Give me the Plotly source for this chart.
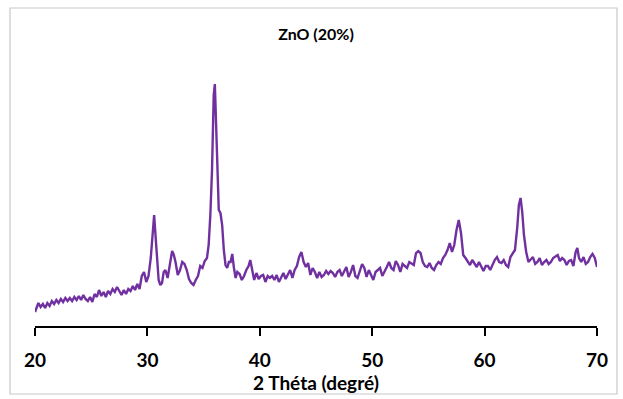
import plotly.graph_objects as go

two_theta = [
    20.0, 20.15, 20.3, 20.5, 20.7, 20.9, 21.1, 21.3, 21.5, 21.7, 21.9, 22.1, 22.3, 22.5, 22.7, 22.9,
    23.1, 23.3, 23.5, 23.7, 23.9, 24.1, 24.3, 24.5, 24.7, 24.9, 25.1, 25.3, 25.5, 25.7, 25.9, 26.1,
    26.3, 26.5, 26.7, 26.9, 27.1, 27.3, 27.5, 27.7, 27.9, 28.1, 28.3, 28.5, 28.7, 28.9, 29.1, 29.3,
    29.5, 29.7, 29.9, 30.1, 30.3, 30.45, 30.6, 30.75, 30.9, 31.0, 31.15, 31.3, 31.45, 31.6, 31.8,
    32.0, 32.2, 32.35, 32.5, 32.7, 32.9, 33.1, 33.3, 33.5, 33.7, 33.9, 34.1, 34.3, 34.5, 34.7, 34.9,
    35.1, 35.3, 35.45, 35.6, 35.75, 35.9, 36.0, 36.1, 36.2, 36.35, 36.5, 36.65, 36.8, 36.95, 37.1,
    37.25, 37.4, 37.55, 37.7, 37.85, 38.0, 38.2, 38.4, 38.6, 38.8, 39.0, 39.15, 39.3, 39.5, 39.7,
    39.9, 40.1, 40.3, 40.5, 40.7, 40.9, 41.1, 41.3, 41.5, 41.7, 41.9, 42.1, 42.3, 42.5, 42.7, 42.9,
    43.1, 43.3, 43.5, 43.7, 43.9, 44.1, 44.3, 44.5, 44.7, 44.9, 45.1, 45.3, 45.5, 45.7, 45.9, 46.1,
    46.3, 46.5, 46.7, 46.9, 47.1, 47.3, 47.5, 47.7, 47.9, 48.1, 48.3, 48.5, 48.7, 48.9, 49.1, 49.3,
    49.5, 49.7, 49.9, 50.1, 50.3, 50.5, 50.7, 50.9, 51.1, 51.3, 51.5, 51.7, 51.9, 52.1, 52.3, 52.5,
    52.7, 52.9, 53.1, 53.3, 53.5, 53.7, 53.9, 54.1, 54.3, 54.5, 54.7, 54.9, 55.1, 55.3, 55.5, 55.7,
    55.9, 56.1, 56.3, 56.5, 56.7, 56.9, 57.1, 57.3, 57.5, 57.7, 57.9, 58.1, 58.3, 58.5, 58.7, 58.9,
    59.1, 59.3, 59.5, 59.7, 59.9, 60.1, 60.3, 60.5, 60.7, 60.9, 61.1, 61.3, 61.5, 61.7, 61.9, 62.1,
    62.3, 62.5, 62.7, 62.9, 63.05, 63.2, 63.35, 63.5, 63.7, 63.9, 64.1, 64.3, 64.5, 64.7, 64.9, 65.1,
    65.3, 65.5, 65.7, 65.9, 66.1, 66.3, 66.5, 66.7, 66.9, 67.1, 67.3, 67.5, 67.7, 67.9, 68.1, 68.25,
    68.4, 68.6, 68.8, 69.0, 69.2, 69.4, 69.6, 69.8, 70.0,
]

intensity = [
    14, 18, 23, 19, 22, 18, 23, 20, 25, 22, 26, 23, 27, 24, 28, 25,
    28, 25, 29, 26, 30, 26, 31, 27, 25, 29, 24, 32, 29, 36, 30, 34,
    29, 35, 32, 37, 34, 39, 35, 31, 36, 32, 37, 35, 40, 36, 42, 37,
    50, 54, 44, 50, 68, 94, 111, 86, 54, 46, 41, 43, 54, 56, 48,
    64, 75, 71, 64, 51, 56, 64, 62, 56, 47, 43, 41, 46, 50, 60, 58,
    65, 68, 81, 111, 156, 231, 242, 206, 151, 116, 113, 101, 76, 61, 58,
    64, 64, 72, 58, 48, 54, 52, 46, 50, 56, 60, 66, 56, 46, 53,
    47, 50, 51, 44, 50, 48, 50, 46, 51, 44, 49, 53, 47, 51, 56, 48,
    56, 60, 69, 74, 64, 59, 63, 51, 58, 54, 48, 54, 49, 51, 55, 52,
    55, 53, 49, 54, 56, 50, 54, 59, 49, 54, 61, 50, 48, 54, 62, 58,
    49, 56, 51, 46, 54, 56, 58, 50, 54, 59, 64, 58, 56, 65, 61, 54,
    62, 60, 58, 64, 62, 61, 73, 75, 73, 64, 60, 59, 63, 58, 56, 61,
    64, 62, 68, 71, 76, 83, 74, 81, 96, 106, 93, 71, 68, 64, 61, 66,
    62, 59, 64, 59, 55, 60, 60, 56, 62, 66, 69, 64, 63, 66, 61, 59,
    69, 72, 76, 98, 121, 128, 114, 91, 74, 64, 66, 69, 62, 64, 68, 61,
    64, 66, 62, 64, 68, 70, 71, 65, 68, 66, 61, 65, 66, 60, 74, 78,
    68, 64, 69, 62, 64, 69, 72, 68, 59,
]

tick_values = [20, 30, 40, 50, 60, 70]
tick_labels = ["20", "30", "40", "50", "60", "70"]

fig = go.Figure()
fig.add_trace(go.Scatter(
    x=two_theta, y=intensity, mode="lines",
    line=dict(color="#7030A0", width=2.4),
    showlegend=False, hoverinfo="skip",
))

font_family = "Lato, 'Open Sans', sans-serif"

# plot area in pixels: x 35..597, y 50..326
L, R, T, B = 35, 26, 50, 73
W, H = 623, 399
pw, ph = W - L - R, H - T - B

def px_x(x):
    return (x - L) / pw

def px_y(y):
    return (H - B - y) / ph

fig.update_layout(
    width=W, height=H,
    margin=dict(l=L, r=R, t=T, b=B, autoexpand=False),
    paper_bgcolor="white", plot_bgcolor="white",
    font=dict(family=font_family, color="#000000"),
    title=dict(text="<b>ZnO (20%)</b>", x=0.5, xref="paper", xanchor="center",
               y=1 - 34 / H, yref="container", yanchor="middle",
               font=dict(size=16, family=font_family, color="#000000")),
    xaxis=dict(
        range=[20, 70], tickmode="array",
        tickvals=tick_values,
        ticktext=["<b>%s</b>" % t for t in tick_labels],
        showline=True, linecolor="#000000", linewidth=2,
        ticks="outside", ticklen=8, tickwidth=2, tickcolor="#000000",
        ticklabelstandoff=8,
        showgrid=False, zeroline=False,
        tickfont=dict(size=19, family=font_family, color="#000000"),
        title=dict(text="<b>2 Théta (degré)</b>", standoff=0,
                   font=dict(size=19, family=font_family, color="#000000")),
    ),
    yaxis=dict(range=[0, 276], visible=False, showgrid=False, zeroline=False),
    shapes=[dict(
        type="rect", xref="paper", yref="paper",
        x0=px_x(10), x1=px_x(617), y0=px_y(394), y1=px_y(8),
        line=dict(color="#c8c8c8", width=1.2), fillcolor="rgba(0,0,0,0)", layer="below",
    )],
)

fig.write_html("out.html")
